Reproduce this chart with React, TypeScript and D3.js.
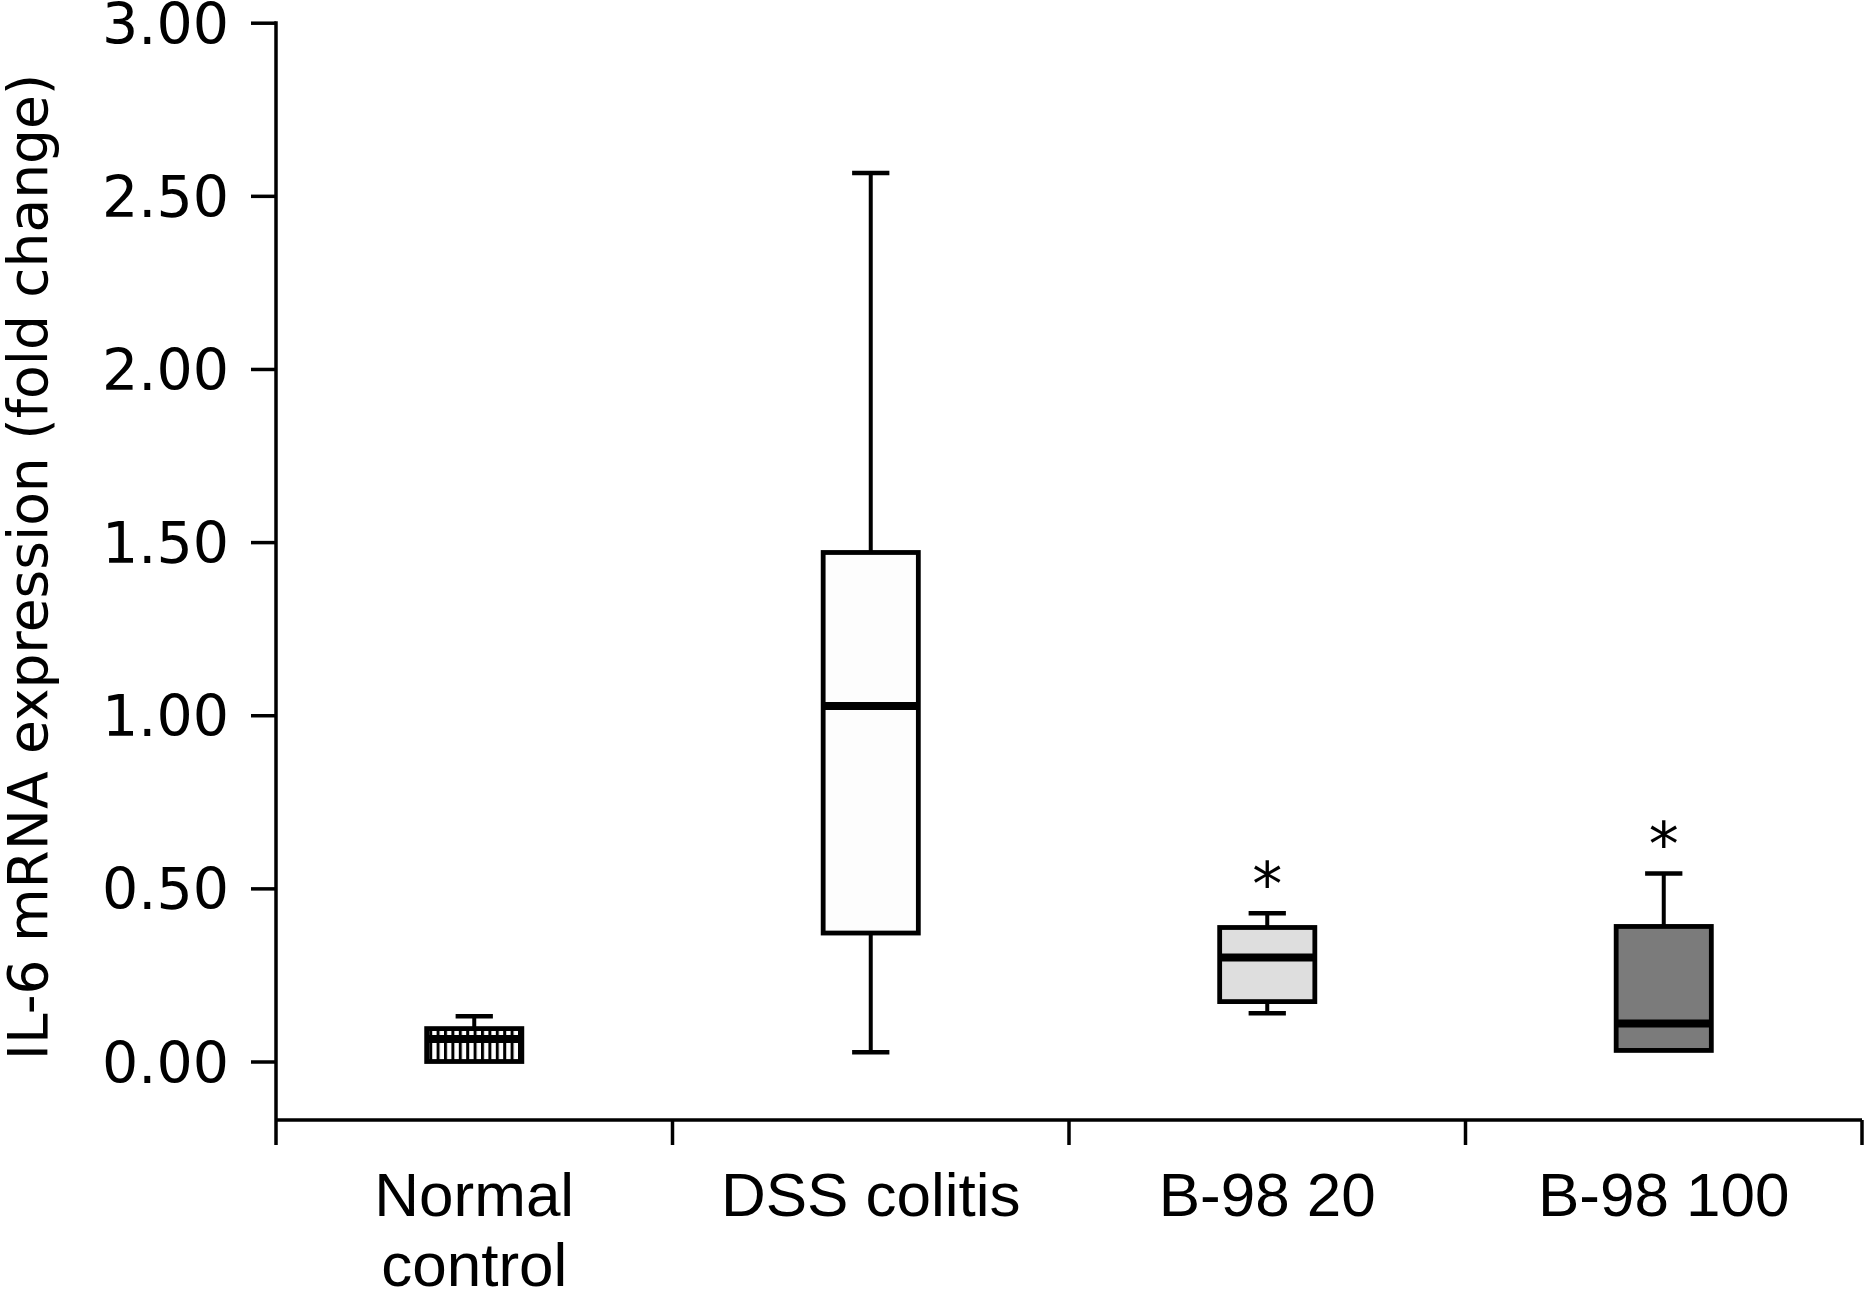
import React, { useEffect, useRef } from 'react';
import * as d3 from 'd3';

// groups and box statistics
const groups = ['Normal control', 'DSS colitis', 'B-98 20', 'B-98 100'];
const groupLabels = [['Normal', 'control'], ['DSS colitis'], ['B-98 20'], ['B-98 100']];
const whiskerLow = [0.0, 0.027, 0.139, 0.032];
const q1 = [0.0, 0.371, 0.173, 0.032];
const median = [0.065, 1.027, 0.3, 0.11];
const q3 = [0.095, 1.47, 0.387, 0.39];
const whiskerHigh = [0.131, 2.566, 0.428, 0.543];
const significant = [false, false, true, true];
const boxFills = ['url(#vhatch)', '#fdfdfd', '#dedede', '#7b7b7b'];
const yTicks = [0, 0.5, 1, 1.5, 2, 2.5, 3];

const W = 1866;
const H = 1294;

const App: React.FC = () => {
  const svgRef = useRef<SVGSVGElement | null>(null);

  useEffect(() => {
    if (!svgRef.current) return;
    const svg = d3.select(svgRef.current);
    svg.selectAll('*').remove();

    const axisX = 276;
    const axisRight = 1862;
    const baseY = 1120;
    const tickLen = 25;

    const y = d3.scaleLinear().domain([0, 3]).range([1061.5, 22.7]);
    const x = d3.scaleBand().domain(groups).range([axisX, axisRight]).padding(0);
    const bw = x.bandwidth();
    const boxW = bw * 0.24;
    const capW = bw * 0.094;

    // vertical stripe pattern for the normal control box
    const defs = svg.append('defs');
    const pat = defs.append('pattern')
      .attr('id', 'vhatch')
      .attr('patternUnits', 'userSpaceOnUse')
      .attr('width', 7.4)
      .attr('height', 10)
      .attr('x', 0);
    pat.append('rect').attr('width', 7.4).attr('height', 10).attr('fill', '#fff');
    pat.append('rect').attr('x', 0).attr('width', 3).attr('height', 10).attr('fill', '#000');

    // y axis
    const yAxis = d3.axisLeft(y)
      .tickValues(yTicks)
      .tickSize(tickLen)
      .tickPadding(22)
      .tickFormat(d3.format('.2f'));
    const gy = svg.append('g').attr('transform', `translate(${axisX},0)`).call(yAxis);
    gy.select('.domain').remove();
    gy.selectAll('line').attr('stroke', '#000').attr('stroke-width', 3.5);
    gy.selectAll('text')
      .attr('font-family', 'DejaVu Sans')
      .attr('font-size', 57)
      .attr('dy', '0.36em')
      .attr('fill', '#000');
    svg.append('line')
      .attr('x1', axisX).attr('x2', axisX)
      .attr('y1', y(3) - 1.5).attr('y2', baseY + tickLen)
      .attr('stroke', '#000').attr('stroke-width', 3.5);

    // x axis
    svg.append('line')
      .attr('x1', axisX).attr('x2', axisRight)
      .attr('y1', baseY).attr('y2', baseY)
      .attr('stroke', '#000').attr('stroke-width', 3.5);
    const bounds = groups.map(g => x(g) as number).concat([axisRight]).slice(1);
    svg.selectAll('.xtick')
      .data(bounds)
      .enter()
      .append('line')
      .attr('x1', d => d).attr('x2', d => d)
      .attr('y1', baseY).attr('y2', baseY + tickLen)
      .attr('stroke', '#000').attr('stroke-width', 3.5);

    groupLabels.forEach((lines, i) => {
      const cx = (x(groups[i]) as number) + bw / 2;
      const t = svg.append('text')
        .attr('x', cx)
        .attr('y', 1216)
        .attr('text-anchor', 'middle')
        .attr('font-family', 'Liberation Sans')
        .attr('font-size', 62)
        .attr('fill', '#000');
      lines.forEach((ln, j) => {
        t.append('tspan').attr('x', cx).attr('dy', j === 0 ? 0 : 70).text(ln);
      });
    });

    // y title
    svg.append('text')
      .attr('transform', 'translate(47,567) rotate(-90)')
      .attr('text-anchor', 'middle')
      .attr('font-family', 'DejaVu Sans')
      .attr('font-size', 55)
      .attr('fill', '#000')
      .text('IL-6 mRNA expression (fold change)');

    // boxes
    groups.forEach((g, i) => {
      const cx = (x(g) as number) + bw / 2;
      const gb = svg.append('g');
      if (whiskerHigh[i] > q3[i]) {
        gb.append('line')
          .attr('x1', cx).attr('x2', cx)
          .attr('y1', y(whiskerHigh[i])).attr('y2', y(q3[i]))
          .attr('stroke', '#000').attr('stroke-width', 4);
        gb.append('line')
          .attr('x1', cx - capW / 2).attr('x2', cx + capW / 2)
          .attr('y1', y(whiskerHigh[i])).attr('y2', y(whiskerHigh[i]))
          .attr('stroke', '#000').attr('stroke-width', 4.5);
      }
      if (whiskerLow[i] < q1[i]) {
        gb.append('line')
          .attr('x1', cx).attr('x2', cx)
          .attr('y1', y(q1[i])).attr('y2', y(whiskerLow[i]))
          .attr('stroke', '#000').attr('stroke-width', 4);
        gb.append('line')
          .attr('x1', cx - capW / 2).attr('x2', cx + capW / 2)
          .attr('y1', y(whiskerLow[i])).attr('y2', y(whiskerLow[i]))
          .attr('stroke', '#000').attr('stroke-width', 4.5);
      }
      gb.append('rect')
        .attr('x', cx - boxW / 2)
        .attr('y', y(q3[i]))
        .attr('width', boxW)
        .attr('height', y(q1[i]) - y(q3[i]))
        .attr('fill', boxFills[i])
        .attr('stroke', '#000')
        .attr('stroke-width', 4.8);
      gb.append('line')
        .attr('x1', cx - boxW / 2).attr('x2', cx + boxW / 2)
        .attr('y1', y(median[i])).attr('y2', y(median[i]))
        .attr('stroke', '#000').attr('stroke-width', 8);
      if (significant[i]) {
        gb.append('text')
          .attr('x', cx)
          .attr('y', y(whiskerHigh[i]) - 8)
          .attr('text-anchor', 'middle')
          .attr('font-family', 'DejaVu Sans')
          .attr('font-size', 60)
          .attr('fill', '#000')
          .text('*');
      }
    });
  }, []);

  return (
    <svg
      ref={svgRef}
      width={W}
      height={H}
      style={{ position: 'absolute', left: 0, top: 0, background: '#fff' }}
    />
  );
};

export default App;
